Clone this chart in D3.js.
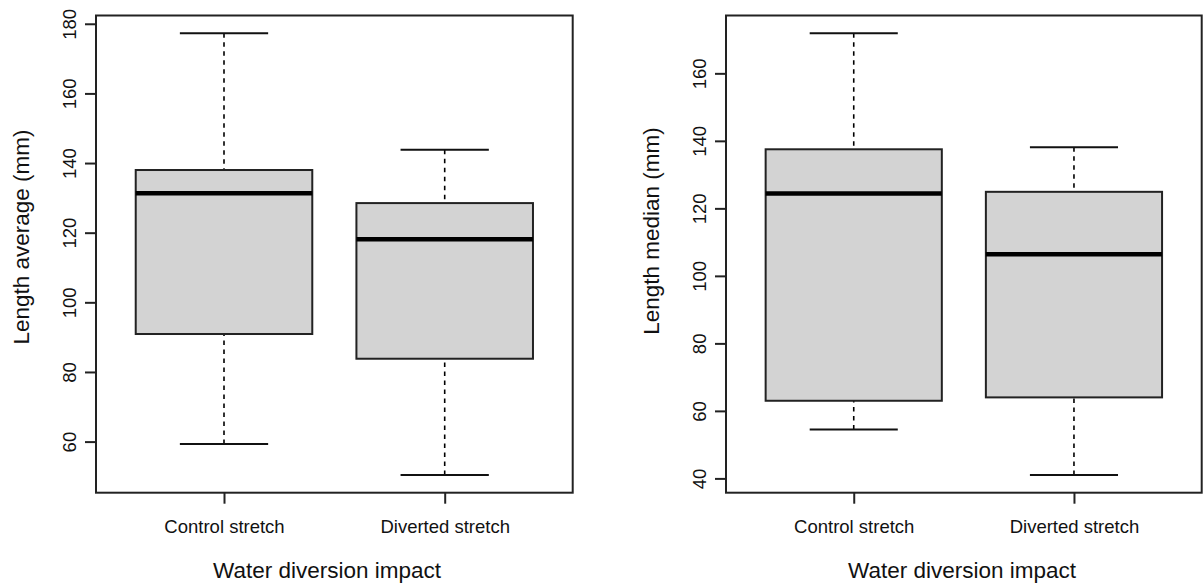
<!DOCTYPE html>
<html>
<head>
<meta charset="utf-8">
<script src="https://cdn.jsdelivr.net/npm/d3@7"></script>
<style>
  html, body { margin: 0; padding: 0; background: #fff; }
  svg { display: block; font-family: "Liberation Sans", Arial, sans-serif; }
</style>
</head>
<body>
<svg id="chart" width="1204" height="586"></svg>
<script>
// Categories shared by both panels
const categories = ["Control stretch", "Diverted stretch"];

// Panel 1: average length (mm) — whisker ends, quartiles, median
const avgLower  = [59.3, 50.4];
const avgQ1     = [90.9, 83.8];
const avgMedian = [131.3, 118.1];
const avgQ3     = [138.0, 128.5];
const avgUpper  = [177.3, 143.8];
const avgTicks  = [60, 80, 100, 120, 140, 160, 180];

// Panel 2: median length (mm)
const medLower  = [54.5, 41.0];
const medQ1     = [63.0, 64.0];
const medMedian = [124.4, 106.4];
const medQ3     = [137.5, 124.9];
const medUpper  = [171.9, 138.1];
const medTicks  = [40, 60, 80, 100, 120, 140, 160];

const xTitle = "Water diversion impact";

const panels = [
  { left: 96,  right: 572.7, titleX: 327, yLabelX: 29, yLabelY: 237, tickLabelX: 76,
    yTitle: "Length average (mm)",
    lower: avgLower, q1: avgQ1, median: avgMedian, q3: avgQ3, upper: avgUpper, ticks: avgTicks },
  { left: 726, right: 1201.7, titleX: 962, yLabelX: 659, yLabelY: 231, tickLabelX: 706,
    yTitle: "Length median (mm)",
    lower: medLower, q1: medQ1, median: medMedian, q3: medQ3, upper: medUpper, ticks: medTicks }
];

const plotTop = 15.5, plotBottom = 492.7;
const tickLen = 11;
const svg = d3.select("#chart");

panels.forEach(p => {
  const rows = categories.map((c, i) => ({
    cat: c, pos: i + 1,
    lo: p.lower[i], q1: p.q1[i], med: p.median[i], q3: p.q3[i], hi: p.upper[i]
  }));

  // Data range padded by 4% on each side, x range 0.5..2.5 padded likewise
  const lo = d3.min(p.lower), hi = d3.max(p.upper);
  const pad = (hi - lo) * 0.04;
  const y = d3.scaleLinear().domain([lo - pad, hi + pad]).range([plotBottom, plotTop]);
  const xPad = (2.5 - 0.5) * 0.04;
  const x = d3.scaleLinear().domain([0.5 - xPad, 2.5 + xPad]).range([p.left, p.right]);
  const boxW = x(1.4) - x(1);   // half of a 0.8-wide box
  const capW = boxW / 2;

  const g = svg.append("g");

  // Whiskers (dashed)
  g.selectAll(".whisk-lo").data(rows).join("line")
    .attr("x1", d => x(d.pos)).attr("x2", d => x(d.pos))
    .attr("y1", d => y(d.lo)).attr("y2", d => y(d.q1))
    .attr("stroke", "#000").attr("stroke-width", 1.6).attr("stroke-dasharray", "4.5,4.5");
  g.selectAll(".whisk-hi").data(rows).join("line")
    .attr("x1", d => x(d.pos)).attr("x2", d => x(d.pos))
    .attr("y1", d => y(d.hi)).attr("y2", d => y(d.q3))
    .attr("stroke", "#000").attr("stroke-width", 1.6).attr("stroke-dasharray", "4.5,4.5");

  // Whisker caps
  ["lo", "hi"].forEach(k => {
    g.selectAll(".cap-" + k).data(rows).join("line")
      .attr("x1", d => x(d.pos) - capW).attr("x2", d => x(d.pos) + capW)
      .attr("y1", d => y(d[k])).attr("y2", d => y(d[k]))
      .attr("stroke", "#111").attr("stroke-width", 2);
  });

  // Boxes
  g.selectAll(".box").data(rows).join("rect")
    .attr("x", d => x(d.pos) - boxW).attr("width", 2 * boxW)
    .attr("y", d => y(d.q3)).attr("height", d => y(d.q1) - y(d.q3))
    .attr("fill", "#d3d3d3").attr("stroke", "#222").attr("stroke-width", 2);

  // Medians
  g.selectAll(".med").data(rows).join("line")
    .attr("x1", d => x(d.pos) - boxW).attr("x2", d => x(d.pos) + boxW)
    .attr("y1", d => y(d.med)).attr("y2", d => y(d.med))
    .attr("stroke", "#000").attr("stroke-width", 4.5);

  // Plot frame
  g.append("rect")
    .attr("x", p.left).attr("y", plotTop)
    .attr("width", p.right - p.left).attr("height", plotBottom - plotTop)
    .attr("fill", "none").attr("stroke", "#222").attr("stroke-width", 2);

  // Y axis
  const ya = g.append("g").attr("transform", `translate(${p.left},0)`)
    .call(d3.axisLeft(y).tickValues(p.ticks).tickSize(tickLen).tickFormat(d3.format("d")));
  ya.select(".domain").remove();
  ya.selectAll(".tick line").attr("stroke", "#222").attr("stroke-width", 2);
  ya.selectAll(".tick text")
    .attr("x", null).attr("dy", null)
    .attr("transform", `translate(${p.tickLabelX - p.left},0) rotate(-90)`)
    .attr("text-anchor", "middle")
    .attr("font-size", 18.5).attr("fill", "#111");

  // X axis
  const xa = g.append("g").attr("transform", `translate(0,${plotBottom})`)
    .call(d3.axisBottom(x).tickValues(rows.map(d => d.pos)).tickSize(tickLen)
      .tickFormat(v => categories[v - 1]));
  xa.select(".domain").remove();
  xa.selectAll(".tick line").attr("stroke", "#222").attr("stroke-width", 2);
  xa.selectAll(".tick text")
    .attr("y", 533 - plotBottom).attr("dy", null)
    .attr("font-size", 18.5).attr("fill", "#111");

  // Axis titles
  svg.append("text")
    .attr("x", p.titleX).attr("y", 578)
    .attr("text-anchor", "middle").attr("font-size", 22.5).attr("fill", "#111")
    .text(xTitle);
  svg.append("text")
    .attr("transform", `translate(${p.yLabelX},${p.yLabelY}) rotate(-90)`)
    .attr("text-anchor", "middle").attr("font-size", 22.5).attr("fill", "#111")
    .text(p.yTitle);
});
</script>
</body>
</html>
